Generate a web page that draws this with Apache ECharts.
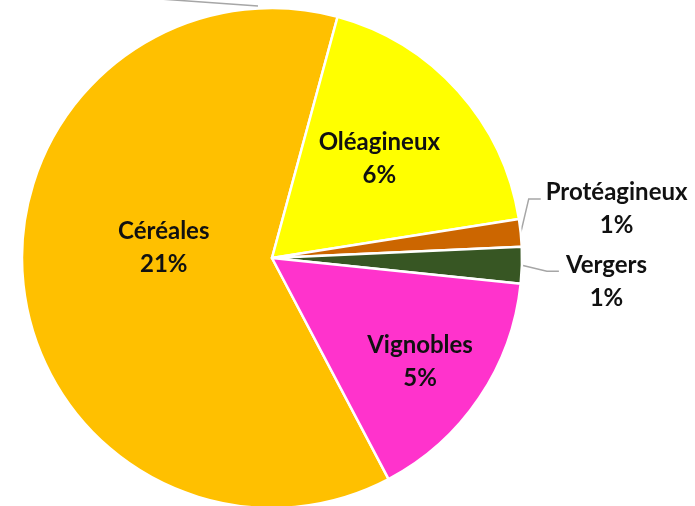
<!DOCTYPE html>
<html>
<head>
<meta charset="utf-8">
<script src="https://cdn.jsdelivr.net/npm/echarts@6/dist/echarts.min.js"></script>
<style>html,body{margin:0;padding:0;background:#fff}#c{width:695px;height:506px}</style>
</head>
<body>
<div id="c"></div>
<script>
const categories = ['Céréales', 'Oléagineux', 'Protéagineux', 'Vergers', 'Vignobles'];
const values = [21, 6.2, 0.6, 0.8, 5.3];
const colors = ['#FFC000', '#FFFF00', '#CC6600', '#375623', '#FF33CC'];
const labelInside = [true, true, false, false, true];

const chart = echarts.init(document.getElementById('c'));
const font = 'Lato, "Open Sans", sans-serif';
const data = categories.map((name, i) => ({
  name: name,
  value: values[i],
  itemStyle: { color: colors[i] },
  label: labelInside[i] ? { position: 'inside' } : { position: 'outside' },
  labelLine: { show: !labelInside[i] }
}));
const offsets = [[19, -24], [12, -14], [-2, -23], [17, 16], [42, 32]];
// leader-line bends relative to the library's own start point
const bends = [null, null, [[8, -34], [20, -34]], [[25, 6], [37, 6]], null];
chart.setOption({
  animation: false,
  graphic: [{
    type: 'line', shape: { x1: 160, y1: -1, x2: 258, y2: 6 },
    style: { stroke: '#a6a6a6', lineWidth: 1.5 }
  }],
  series: [{
    type: 'pie',
    center: [272, 258],
    radius: [0, 250],
    startAngle: -62.2,
    clockwise: true,
    avoidLabelOverlap: false,
    itemStyle: { borderColor: '#fff', borderWidth: 2.5 },
    label: {
      show: true,
      formatter: p => '{n|' + p.name + '}\n{n|' + Math.round(p.value) + '%}',
      rich: { n: { fontFamily: font, fontWeight: 'bold', fontSize: 24, color: '#111', lineHeight: 33, align: 'center' } }
    },
    labelLine: { length: 8, length2: 14, lineStyle: { color: '#a6a6a6', width: 1.5 } },
    labelLayout: function (p) {
      const o = offsets[p.dataIndex];
      const res = { dx: o[0], dy: o[1] };
      const b = bends[p.dataIndex];
      if (b && p.labelLinePoints) {
        const s = p.labelLinePoints[0];
        res.labelLinePoints = [[s[0], s[1]], [s[0] + b[0][0], s[1] + b[0][1]], [s[0] + b[1][0], s[1] + b[1][1]]];
      }
      return res;
    },
    data: data
  }]
});
</script>
</body>
</html>
